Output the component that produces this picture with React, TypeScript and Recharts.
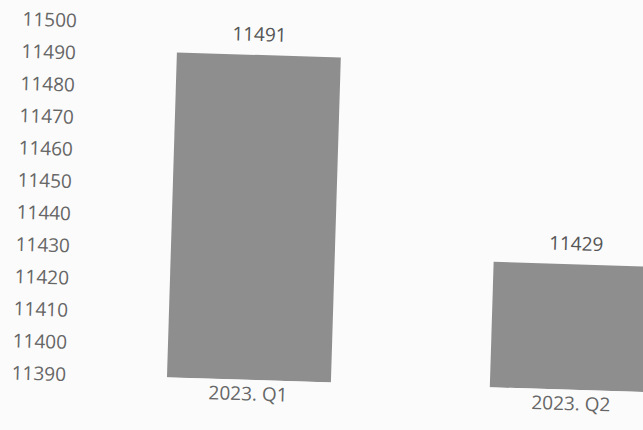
import React from 'react';
import { BarChart, Bar, XAxis, YAxis, LabelList } from 'recharts';

// Quarterly values
const quarters = ['2023. Q1', '2023. Q2'];
const values = [11491, 11429];
const yTicks = [11390, 11400, 11410, 11420, 11430, 11440, 11450, 11460, 11470, 11480, 11490, 11500];

const chartData = quarters.map((q, i) => ({ quarter: q, value: values[i] }));

const FONT = '"Open Sans", "Noto Sans", sans-serif';

export default function App() {
  return (
    <div
      style={{
        position: 'fixed',
        left: 0,
        top: 0,
        width: 643,
        height: 430,
        overflow: 'hidden',
        background: '#fbfbfb',
      }}
    >
      {/* the scan is tilted slightly clockwise */}
      <div style={{ transform: 'rotate(1.75deg)', transformOrigin: '320px 215px' }}>
        <BarChart
          width={758}
          height={430}
          data={chartData}
          margin={{ top: 28, right: 20, bottom: 0, left: 0 }}
          barCategoryGap={80}
          style={{ fontFamily: FONT }}
        >
          <XAxis
            dataKey="quarter"
            axisLine={false}
            tickLine={false}
            height={48}
            tickMargin={1}
            tick={{ fill: '#666', fontSize: 19 }}
          />
          <YAxis
            type="number"
            domain={[11390, 11500]}
            ticks={yTicks}
            allowDataOverflow
            axisLine={false}
            tickLine={false}
            width={92}
            tickMargin={15}
            tick={{ fill: '#666', fontSize: 19 }}
          />
          <Bar dataKey="value" fill="#8e8e8e" barSize={164} isAnimationActive={false}>
            <LabelList dataKey="value" position="top" offset={14} fill="#555" fontSize={19} />
          </Bar>
        </BarChart>
      </div>
    </div>
  );
}
